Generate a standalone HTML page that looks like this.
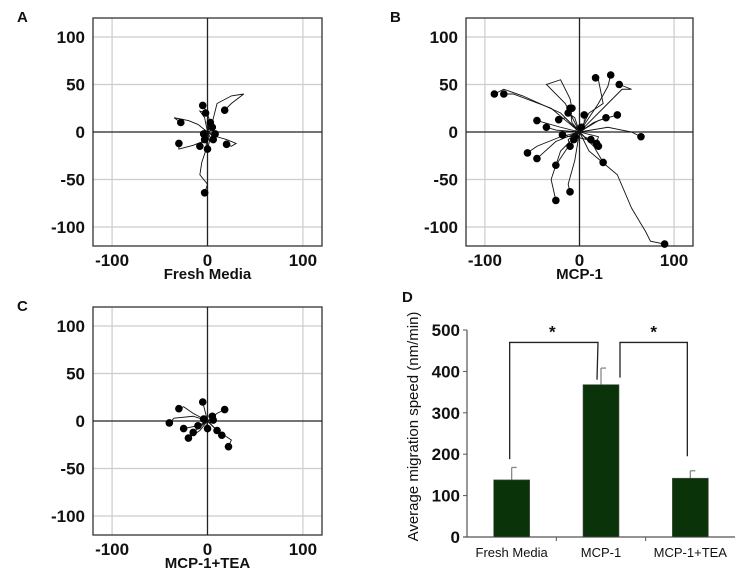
<!DOCTYPE html>
<html><head><meta charset="utf-8"><style>
body{margin:0;background:#fff;}
svg{display:block;font-family:"Liberation Sans",Arial,sans-serif;}
</style></head><body>
<svg id="fig" width="750" height="572" viewBox="0 0 750 572"></svg>
<script>
// ---------- data ----------
const axisTicks = [-100, 0, 100];
const yTicks = [100, 50, 0, -50, -100];
const tracksA = [
 [[0,0],[5,10],[8,22],[10,30],[25,38],[38,40],[25,30],[18,23]],
 [[0,0],[-10,8],[-20,12],[-35,15],[-28,10]],
 [[0,0],[-5,-10],[-15,-14],[-30,-18],[-30,-12]],
 [[0,0],[2,12],[0,20],[-5,28]],
 [[0,0],[10,-5],[20,-8],[30,-12],[25,-15],[20,-13]],
 [[0,0],[-2,-20],[-6,-32],[-8,-45],[0,-55],[-3,-64]],
 [[0,0],[2,-10],[0,-18]],
 [[0,0],[-4,-8],[-8,-15]],
 [[0,0],[8,4],[5,5]],
 [[0,0],[-3,15],[-8,22],[-2,20]],
 [[0,0],[3,-6],[8,-2]],
 [[0,0],[-2,-4],[-3,-8]],
 [[0,0],[2,6],[3,10]],
 [[0,0],[-3,2],[-4,-2]],
 [[0,0],[4,-3],[6,-8]]
];
const tracksB = [
 [[0,0],[-20,20],[-60,38],[-80,45],[-90,40]],
 [[0,0],[-30,25],[-70,40],[-80,40]],
 [[0,0],[-15,30],[-35,50],[-20,55],[-10,35],[-8,25]],
 [[0,0],[-20,5],[-45,12]],
 [[0,0],[10,20],[25,30],[20,55],[17,57]],
 [[0,0],[20,30],[30,48],[33,60]],
 [[0,0],[30,30],[45,45],[55,45],[42,50]],
 [[0,0],[10,-20],[40,-45],[55,-80],[70,-105],[75,-115],[90,-118]],
 [[0,0],[30,5],[55,0],[65,-5]],
 [[0,0],[-20,-5],[-45,-15],[-55,-22]],
 [[0,0],[-25,-10],[-45,-28]],
 [[0,0],[-20,-20],[-30,-50],[-25,-72]],
 [[0,0],[-5,-30],[-12,-55],[-10,-63]],
 [[0,0],[-15,-20],[-25,-35]],
 [[0,0],[15,-15],[25,-32]],
 [[0,0],[10,-10],[20,-15]],
 [[0,0],[-25,2],[-35,5]],
 [[0,0],[-5,15],[-12,20]],
 [[0,0],[5,10],[5,18]],
 [[0,0],[-15,15],[-22,13]],
 [[0,0],[15,10],[28,15]],
 [[0,0],[20,12],[40,18]],
 [[0,0],[-8,10],[-10,25]],
 [[0,0],[8,-8],[-5,-5]],
 [[0,0],[-10,-5],[-18,-3]],
 [[0,0],[5,-5],[12,-8]],
 [[0,0],[-3,5],[-6,-8]],
 [[0,0],[4,8],[2,5]],
 [[0,0],[-12,-8],[-10,-15]],
 [[0,0],[20,-5],[18,-12]]
];
const tracksC = [
 [[0,0],[-15,5],[-35,3],[-40,-2]],
 [[0,0],[-15,8],[-25,15],[-30,13]],
 [[0,0],[-10,-5],[-25,-8]],
 [[0,0],[-8,-10],[-20,-18]],
 [[0,0],[10,-10],[25,-20],[22,-27]],
 [[0,0],[8,-8],[15,-15]],
 [[0,0],[10,8],[18,12]],
 [[0,0],[-3,12],[-5,20]],
 [[0,0],[4,3],[5,5]],
 [[0,0],[-5,-3],[-10,-5]],
 [[0,0],[6,-6],[10,-10]],
 [[0,0],[-10,-8],[-15,-12]],
 [[0,0],[-2,4],[-4,2]],
 [[0,0],[3,-2],[6,1]],
 [[0,0],[-1,-5],[0,-8]]
];
const barCategories = ["Fresh Media", "MCP-1", "MCP-1+TEA"];
const barValues = [138, 368, 142];
const barErrors = [30, 40, 18];
const barTicks = [0, 100, 200, 300, 400, 500];

// ---------- helpers ----------
const NS = "http://www.w3.org/2000/svg";
const svg = document.getElementById("fig");
function mk(tag, attrs, parent) {
  const e = document.createElementNS(NS, tag);
  for (const k in attrs) e.setAttribute(k, attrs[k]);
  (parent || svg).appendChild(e);
  return e;
}

function scatterPanel(id, letter, title, left, top, w, h, tracks) {
  const g = mk("g", {});
  
  
  const sx = v => left + (v + 120) / 240 * w;
  const sy = v => top + (120 - v) / 240 * h;
  for (const t of [-100, -50, 50, 100]) {
    const gl = mk("line", {x1: left, x2: left + w, y1: sy(t), y2: sy(t), stroke: "#ccc", "stroke-width": 1.2}, g);
    
    
  }
  for (const t of [-100, 100]) {
    const gl = mk("line", {y1: top, y2: top + h, x1: sx(t), x2: sx(t), stroke: "#ccc", "stroke-width": 1.2}, g);
    
    
  }
  const box = mk("rect", {x: left, y: top, width: w, height: h, fill: "none", stroke: "#333", "stroke-width": 1.3}, g);
  
  
  const ax1 = mk("line", {x1: left, x2: left + w, y1: sy(0), y2: sy(0), stroke: "#222", "stroke-width": 1.3}, g);
  
  
  const ax2 = mk("line", {y1: top, y2: top + h, x1: sx(0), x2: sx(0), stroke: "#222", "stroke-width": 1.3}, g);
  
  
  for (const tr of tracks) {
    const pl = mk("polyline", {points: tr.map(p => sx(p[0]) + "," + sy(p[1])).join(" "), fill: "none", stroke: "#111", "stroke-width": 0.9}, g);
    
    
    const end = tr[tr.length - 1];
    const c = mk("circle", {cx: sx(end[0]), cy: sy(end[1]), r: 3.8, fill: "#000"}, g);
    
    
  }
  for (const t of yTicks) {
    const tx = mk("text", {x: left - 8, y: sy(t) + 6, "text-anchor": "end", "font-size": 17, "font-weight": "bold", fill: "#111"}, g);
    tx.textContent = t;
    
    
  }
  for (const t of axisTicks) {
    const tx = mk("text", {x: sx(t), y: top + h + 20, "text-anchor": "middle", "font-size": 17, "font-weight": "bold", fill: "#111"}, g);
    tx.textContent = t;
    
    
  }
  const tt = mk("text", {x: sx(0), y: top + h + 33, "text-anchor": "middle", "font-size": 15, "font-weight": "bold", fill: "#111"}, g);
  tt.textContent = title;
  
  
  const lt = mk("text", {x: left - 76, y: top + 4, "font-size": 15, "font-weight": "bold", fill: "#111"}, g);
  lt.textContent = letter;
  
  
}

scatterPanel("fresh-media", "A", "Fresh Media", 93, 18, 229, 228, tracksA);
scatterPanel("mcp1", "B", "MCP-1", 466, 18, 227, 228, tracksB);
scatterPanel("mcp1-tea", "C", "MCP-1+TEA", 93, 307, 229, 228, tracksC);

// ---------- bar chart ----------
(function () {
  const g = mk("g", {});
  
  
  const x0 = 467, x1 = 735, y0 = 537, yTop = 330;
  const sy = v => y0 - v / 500 * (y0 - yTop);
  const n = barCategories.length;
  const slot = (x1 - x0) / n;
  const cx = i => x0 + slot * (i + 0.5);
  const bw = 36;
  const yax = mk("line", {x1: x0, x2: x0, y1: yTop, y2: y0, stroke: "#555", "stroke-width": 1.2}, g);
  
  
  const xax = mk("line", {x1: x0 - 4, x2: x1, y1: y0, y2: y0, stroke: "#555", "stroke-width": 1.2}, g);
  
  
  for (const t of barTicks) {
    const tk = mk("line", {x1: x0 - 4, x2: x0, y1: sy(t), y2: sy(t), stroke: "#555"}, g);
    
    
    const tx = mk("text", {x: x0 - 7, y: sy(t) + 6, "text-anchor": "end", "font-size": 17, "font-weight": "bold", fill: "#111"}, g);
    tx.textContent = t;
    
    
  }
  for (let i = 1; i < n; i++) {
    const tk = mk("line", {x1: x0 + slot * i, x2: x0 + slot * i, y1: y0, y2: y0 + 4, stroke: "#555"}, g);
    
    
  }
  barCategories.forEach((c, i) => {
    const eb = mk("line", {x1: cx(i), x2: cx(i), y1: sy(barValues[i]), y2: sy(barValues[i] + barErrors[i]), stroke: "#888", "stroke-width": 1.3}, g);
    
    
    const ec = mk("line", {x1: cx(i), x2: cx(i) + 5, y1: sy(barValues[i] + barErrors[i]), y2: sy(barValues[i] + barErrors[i]), stroke: "#888", "stroke-width": 1.3}, g);
    
    
    const r = mk("rect", {x: cx(i) - bw / 2, y: sy(barValues[i]), width: bw, height: y0 - sy(barValues[i]), fill: "#0b3309", stroke: "#555", "stroke-width": 0.6}, g);
    
    
    const tx = mk("text", {x: cx(i), y: y0 + 20, "text-anchor": "middle", "font-size": 13, fill: "#111"}, g);
    tx.textContent = c;
    
    
  });
  const bY = sy(470);
  const b1 = mk("polyline", {points: `${cx(0) - 2},${sy(barValues[0] + barErrors[0] + 20)} ${cx(0) - 2},${bY} ${cx(1) - 3},${bY} ${cx(1) - 4},${sy(380)}`, fill: "none", stroke: "#222", "stroke-width": 1.3}, g);
  
  
  const b2 = mk("polyline", {points: `${cx(1) + 19},${sy(385)} ${cx(1) + 19},${bY} ${cx(2) - 3},${bY} ${cx(2) - 3},${sy(barValues[2] + barErrors[2] + 35)}`, fill: "none", stroke: "#222", "stroke-width": 1.3}, g);
  
  
  [[(cx(0) + cx(1)) / 2 - 4], [(cx(1) + cx(2)) / 2 + 8]].forEach(p => {
    const s = mk("text", {x: p[0], y: bY - 5, "text-anchor": "middle", "font-size": 17, "font-weight": "bold", fill: "#111"}, g);
    s.textContent = "*";
    
    
  });
  const yl = mk("text", {x: 0, y: 0, transform: `translate(418,${(y0 + 300) / 2 + 8}) rotate(-90)`, "text-anchor": "middle", "font-size": 15, fill: "#111"}, g);
  yl.textContent = "Average migration speed (nm/min)";
  
  
  const lt = mk("text", {x: 402, y: 302, "font-size": 15, "font-weight": "bold", fill: "#111"}, g);
  lt.textContent = "D";
  
  
})();
</script>
</body></html>
